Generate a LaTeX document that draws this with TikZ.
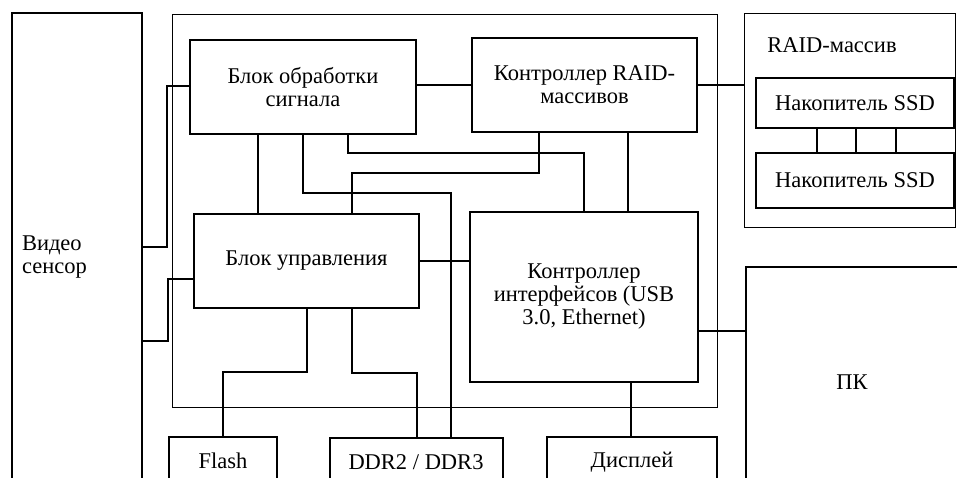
\documentclass[tikz,border=0pt]{standalone}
\usepackage{fontspec}
\setmainfont{Liberation Serif}
\begin{document}
\begin{tikzpicture}[x=1pt,y=-1pt,
  every node/.style={font=\fontsize{22.5}{23}\selectfont, inner sep=0pt, outer sep=0pt},
  blk/.style={draw, line width=1.4pt, rectangle, anchor=north west, align=center},
  frm/.style={draw, line width=0.7pt, rectangle, anchor=north west},
  lbl/.style={align=center},
  wire/.style={line width=1.4pt}
]
\useasboundingbox (0,0) rectangle (957,478);
\clip (0,0) rectangle (957,478);
% frames
\node[frm, minimum width=545, minimum height=393] (frame) at (172,14) {};
\node[frm, minimum width=211, minimum height=214] (raidarr) at (744,13) {};
\node[lbl] (raidarrlbl) at (832,45) {RAID-массив};
% blocks
\node[blk, minimum width=130, minimum height=490] (sensor) at (12,13) {};
\node[lbl, anchor=west, align=left] (sensorlbl) at (22,257) {Видео\\сенсор};
\node[blk, minimum width=226, minimum height=94] (obr) at (190,40) {Блок обработки\\сигнала};
\node[blk, minimum width=225, minimum height=94] (raid) at (472,38) {Контроллер RAID-\\массивов};
\node[blk, minimum width=198, minimum height=50] (ssd1) at (756,78) {Накопитель SSD};
\node[blk, minimum width=198, minimum height=55] (ssd2) at (756,153) {Накопитель SSD};
\node[blk, minimum width=225, minimum height=94] (upr) at (194,214) {Блок управления};
\node[blk, minimum width=228, minimum height=170] (intf) at (470,212) {Контроллер\\интерфейсов (USB\\3.0, Ethernet)};
\node[blk, minimum width=212, minimum height=230] (pc) at (746,267) {ПК};
\node[blk, minimum width=108, minimum height=70] (flash) at (169,437) {};
\node[lbl] (flashlbl) at (223,461) {Flash};
\node[blk, minimum width=173, minimum height=70] (ddr) at (330,438) {};
\node[lbl] (ddrlbl) at (416,462) {DDR2 / DDR3};
\node[blk, minimum width=170, minimum height=70] (disp) at (547,437) {};
\node[lbl] (displbl) at (632,462) {Дисплей};
% wires
\draw[wire] (sensor.east |- 0,247) -- (167,247) |- (obr.west |- 0,86);
\draw[wire] (sensor.east |- 0,341) -- (168,341) |- (upr.west |- 0,279);
\draw[wire] (obr.east |- 0,85) -- (raid.west |- 0,85);
\draw[wire] (raid.east |- 0,85) -- (raidarr.west |- 0,85);
\draw[wire] (ssd1.south -| 817,0) -- (ssd2.north -| 817,0);
\draw[wire] (ssd1.south -| 856,0) -- (ssd2.north -| 856,0);
\draw[wire] (ssd1.south -| 896,0) -- (ssd2.north -| 896,0);
\draw[wire] (obr.south -| 258,0) -- (upr.north -| 258,0);
\draw[wire] (obr.south -| 303,0) |- (451,193) -- (ddr.north -| 451,0);
\draw[wire] (obr.south -| 348,0) |- (584,153) -- (intf.north -| 584,0);
\draw[wire] (raid.south -| 539,0) |- (352,173) -- (upr.north -| 352,0);
\draw[wire] (raid.south -| 628,0) -- (intf.north -| 628,0);
\draw[wire] (upr.east |- 0,261) -- (intf.west |- 0,261);
\draw[wire] (upr.south -| 307,0) |- (223,372) -- (flash.north -| 223,0);
\draw[wire] (upr.south -| 352,0) |- (417,373) -- (ddr.north -| 417,0);
\draw[wire] (intf.south -| 631,0) -- (disp.north -| 631,0);
\draw[wire] (intf.east |- 0,331) -- (pc.west |- 0,331);
\end{tikzpicture}
\end{document}
